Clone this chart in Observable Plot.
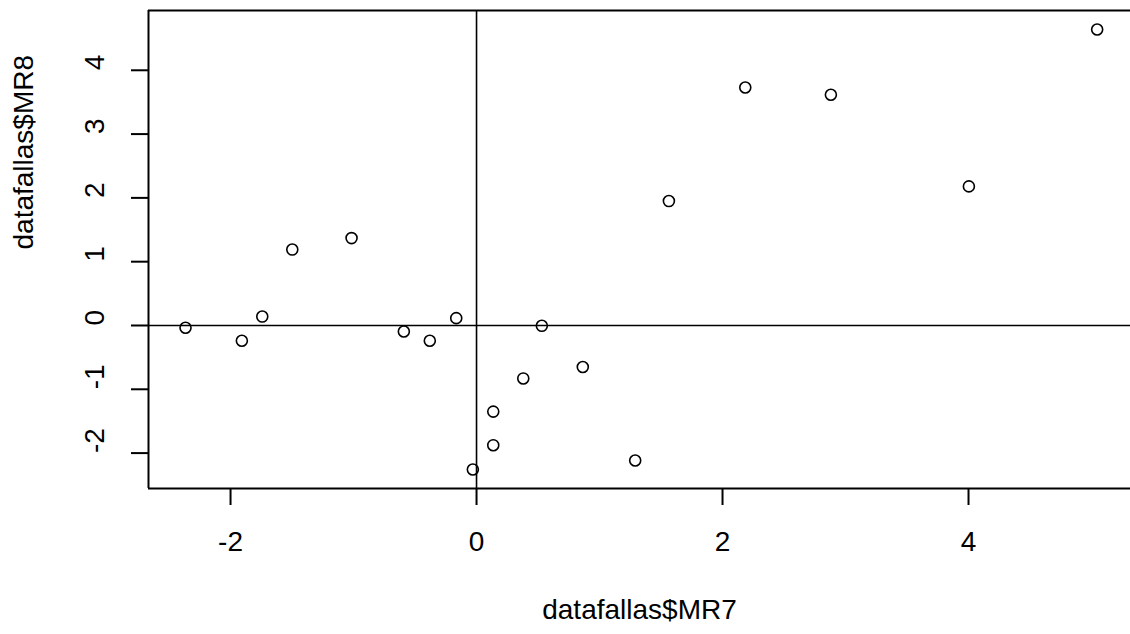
<!DOCTYPE html>
<html>
<head>
<meta charset="utf-8">
<script src="https://cdn.jsdelivr.net/npm/d3@7"></script>
<script src="https://cdn.jsdelivr.net/npm/@observablehq/plot@0.6"></script>
<style>
  html, body { margin: 0; padding: 0; background: #fff; }
  svg { display: block; }
</style>
</head>
<body>
<div id="chart"></div>
<script>
const mr7 = [-2.366, -1.908, -1.742, -1.498, -1.016, -0.591, -0.38, -0.165, -0.03, 0.136, 0.136, 0.38, 0.531, 0.864, 1.29, 1.564, 2.185, 2.881, 4.003, 5.046];
const mr8 = [-0.036, -0.24, 0.14, 1.19, 1.37, -0.094, -0.24, 0.115, -2.257, -1.35, -1.876, -0.83, -0.005, -0.65, -2.116, 1.95, 3.73, 3.616, 2.18, 4.64];
const xTicks = [-2, 0, 2, 4];
const yTicks = [-2, -1, 0, 1, 2, 3, 4];
const xLabel = "datafallas$MR7";
const yLabel = "datafallas$MR8";
const xDomain = [-2.667, 5.317];
const yDomain = [-2.555, 4.937];

const points = mr7.map((x, i) => ({x, y: mr8[i]}));

const chart = Plot.plot({
  width: 1130,
  height: 634,
  marginLeft: 148,
  marginRight: 0,
  marginTop: 10,
  marginBottom: 146,
  style: {fontFamily: "'Liberation Sans', Arial, sans-serif", color: "#000", background: "#fff"},
  x: {domain: xDomain},
  y: {domain: yDomain},
  marks: [
    Plot.ruleX([0], {stroke: "#000", strokeWidth: 1.6}),
    Plot.ruleY([0], {stroke: "#000", strokeWidth: 1.6}),
    Plot.dot(points, {x: "x", y: "y", r: 5.5, stroke: "#000", strokeWidth: 1.6, fill: "none"}),
    // plot box (right side lies outside the image, as in the reference)
    Plot.ruleY([yDomain[1]], {stroke: "#000", strokeWidth: 2}),
    Plot.ruleY([yDomain[0]], {stroke: "#000", strokeWidth: 2}),
    Plot.ruleX([xDomain[0]], {stroke: "#000", strokeWidth: 2}),
    Plot.axisX(xTicks, {tickSize: 17, tickPadding: 26, fontSize: 28, stroke: "#000", strokeWidth: 2, fill: "#000", label: null, tickFormat: d => String(d)}),
    Plot.axisY(yTicks, {tickSize: 17, text: null, stroke: "#000", strokeWidth: 2, label: null}),
    Plot.text(yTicks, {y: d => d, frameAnchor: "left", dx: -53, rotate: -90, text: d => String(d), fontSize: 28, fill: "#000"}),
    Plot.text([xLabel], {frameAnchor: "bottom", dy: 130, text: d => d, fontSize: 28, fill: "#000"}),
    Plot.text([yLabel], {frameAnchor: "left", dx: -124, rotate: -90, text: d => d, fontSize: 28, fill: "#000"})
  ]
});
document.getElementById("chart").appendChild(chart);
</script>
</body>
</html>
